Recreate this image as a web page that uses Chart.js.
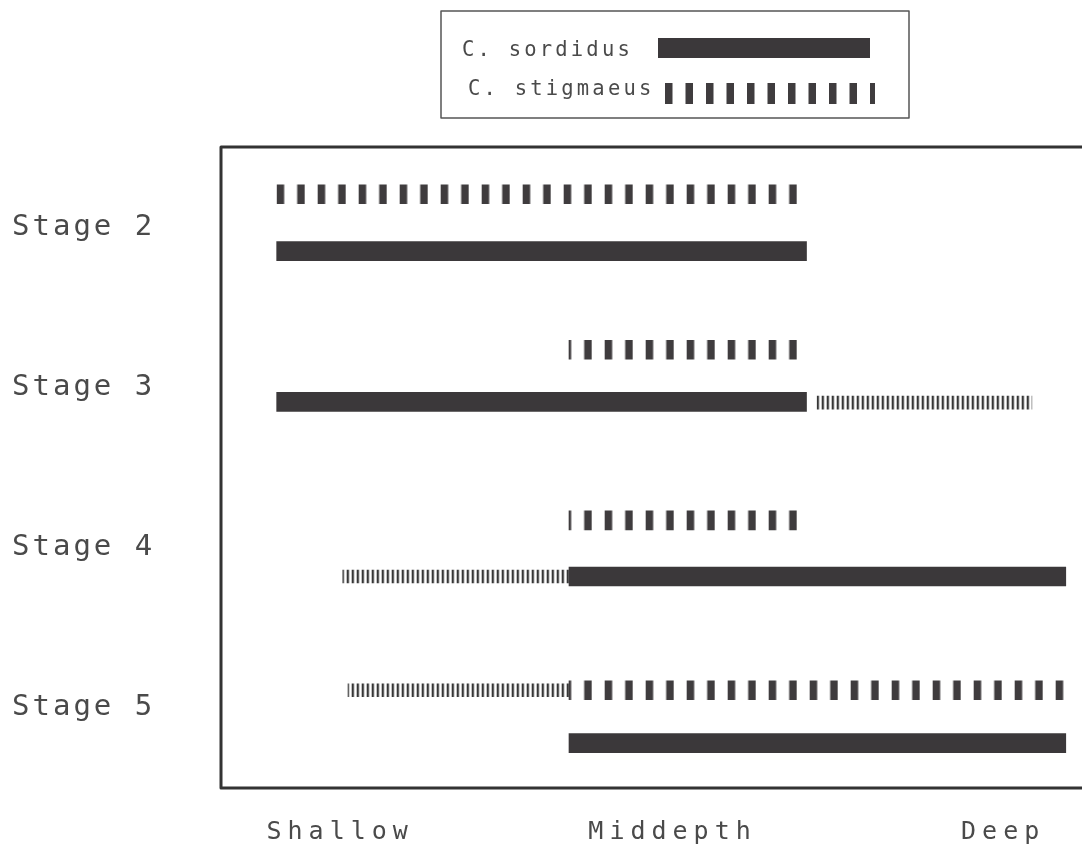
<!DOCTYPE html>
<html>
<head>
<meta charset="utf-8">
<script src="https://cdn.jsdelivr.net/npm/chart.js@4.4.0/dist/chart.umd.min.js"></script>
<style>
  html, body { margin: 0; padding: 0; background: #fff; overflow: hidden; }
</style>
</head>
<body>
<canvas id="chart" width="1100" height="859"></canvas>
<script>
// rows (stages) and depth zones
const stages = ["Stage 2", "Stage 3", "Stage 4", "Stage 5"];
const stagePos = [1, 3, 5, 7];
const depthLabels = ["Shallow", "Middepth", "Deep"];
const depthPos = [13.7, 51.9, 89.9];

// C. sordidus - solid bars, [from, to] along the depth axis
const sordidusRange = [[6.4, 67.3], [6.4, 67.3], [40.0, 97.1], [40.0, 97.1]];
const sordidusRow = [1.30, 3.18, 5.36, 7.44];

// C. stigmaeus - broken bars
const stigmaeusRange = [[6.4, 66.2], [40.0, 66.2], [40.0, 66.2], [40.0, 97.2]];
const stigmaeusRow = [0.59, 2.53, 4.66, 6.78];

// thin hatched extensions (no legend entry)
const fringeRange = [[68.5, 93.2], [14.0, 40.0], [14.6, 40.0]];
const fringeRow = [3.19, 5.36, 6.78];

const canvas = document.getElementById("chart");
const ctx = canvas.getContext("2d");

function makeTile(w, h, draw) {
  const c = document.createElement("canvas");
  c.width = w;
  c.height = h;
  draw(c.getContext("2d"));
  return c;
}

const dashTile = makeTile(41, 24, (g) => {
  g.fillStyle = "#3f3c3e";
  g.fillRect(0, 0, 7.5, 24);
  g.fillRect(20.5, 0, 7.5, 24);
});
const hatchTile = makeTile(5, 16, (g) => {
  g.fillStyle = "#363636";
  g.fillRect(0, 0, 2.3, 16);
});

const dashPattern = ctx.createPattern(dashTile, "repeat");
const legendDash = ctx.createPattern(dashTile, "repeat");
const hatchPattern = ctx.createPattern(hatchTile, "repeat");
const solidColor = "#3b383a";
const textColor = "#4a4a4a";
const monoFont = "'DejaVu Sans Mono', monospace";

function toPoints(ranges, rows) {
  return ranges.map((r, i) => ({ x: r, y: rows[i] }));
}

function spaceLabels(scale, spacing) {
  if (scale._spaced) return;
  const orig = scale.drawLabels;
  scale.drawLabels = function (area) {
    this.ctx.save();
    this.ctx.letterSpacing = spacing;
    orig.call(this, area);
    this.ctx.restore();
  };
  scale._spaced = true;
}

const framePlugin = {
  id: "frame",
  beforeDraw(chart) {
    spaceLabels(chart.scales.y, "3px");
    spaceLabels(chart.scales.x, "6px");
  },
  beforeDatasetsDraw(chart) {
    const x0 = chart.scales.x.getPixelForValue(stigmaeusRange[0][0]);
    dashPattern.setTransform(new DOMMatrix().translate(x0, 0));
    hatchPattern.setTransform(new DOMMatrix().translate(x0, 0));
  },
  afterDraw(chart) {
    const c = chart.ctx;
    const a = chart.chartArea;
    c.save();
    c.strokeStyle = "#333";
    c.lineWidth = 3;
    c.lineJoin = "round";
    c.beginPath();
    c.moveTo(a.right + 5, a.top);
    c.lineTo(a.left, a.top);
    c.lineTo(a.left, a.bottom);
    c.lineTo(a.right + 5, a.bottom);
    c.stroke();

    // legend box
    const sets = chart.data.datasets;
    c.lineWidth = 1.5;
    c.strokeStyle = "#555";
    c.strokeRect(441, 11, 468, 107);
    c.fillStyle = textColor;
    c.font = "20.5px " + monoFont;
    c.letterSpacing = "3.2px";
    c.textBaseline = "middle";
    c.textAlign = "left";
    c.fillText(sets[0].label, 462, 51);
    c.fillText(sets[1].label, 468, 89.5);
    c.letterSpacing = "0px";
    c.fillStyle = solidColor;
    c.fillRect(658, 38, 212, 20);
    legendDash.setTransform(new DOMMatrix().translate(665, 0));
    c.fillStyle = legendDash;
    c.fillRect(665, 83, 210, 21);
    c.restore();
  },
};

new Chart(ctx, {
  type: "bar",
  data: {
    datasets: [
      {
        label: "C. sordidus",
        data: toPoints(sordidusRange, sordidusRow),
        backgroundColor: solidColor,
        barThickness: 19,
        grouped: false,
      },
      {
        label: "C. stigmaeus",
        data: toPoints(stigmaeusRange, stigmaeusRow),
        backgroundColor: dashPattern,
        barThickness: 19,
        grouped: false,
      },
      {
        label: "",
        data: toPoints(fringeRange, fringeRow),
        backgroundColor: hatchPattern,
        barThickness: 13,
        grouped: false,
      },
    ],
  },
  options: {
    indexAxis: "y",
    responsive: false,
    animation: false,
    layout: { padding: { top: 147, right: 9, left: 12, bottom: 0 } },
    plugins: {
      legend: { display: false },
      tooltip: { enabled: false },
    },
    scales: {
      y: {
        type: "linear",
        reverse: true,
        min: 0,
        max: 8,
        offset: false,
        grid: { display: false },
        border: { display: false },
        afterBuildTicks: (scale) => {
          scale.ticks = stagePos.map((v) => ({ value: v }));
        },
        afterFit: (scale) => {
          scale.width = 209;
        },
        ticks: {
          crossAlign: "far",
          color: textColor,
          font: { family: monoFont, size: 29 },
          callback: (v) => stages[stagePos.indexOf(v)],
        },
      },
      x: {
        type: "linear",
        min: 0,
        max: 100,
        offset: false,
        grid: { display: false, drawTicks: false },
        border: { display: false },
        afterBuildTicks: (scale) => {
          scale.ticks = depthPos.map((v) => ({ value: v }));
        },
        afterFit: (scale) => {
          scale.height = 71;
        },
        ticks: {
          padding: 29,
          maxRotation: 0,
          autoSkip: false,
          color: textColor,
          font: { family: monoFont, size: 25 },
          callback: (v) => depthLabels[depthPos.indexOf(v)],
        },
      },
    },
  },
  plugins: [framePlugin],
});
</script>
</body>
</html>
